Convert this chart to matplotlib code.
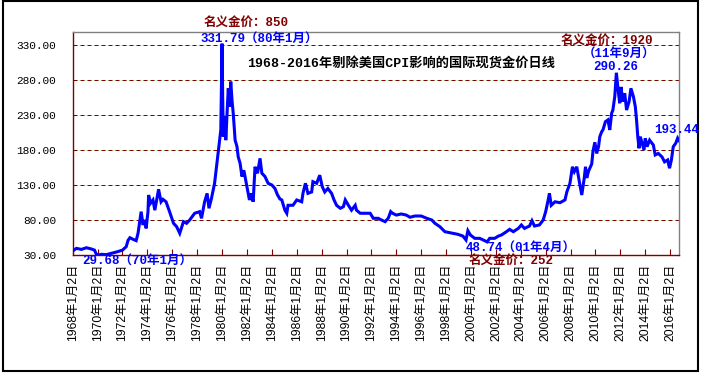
import matplotlib
matplotlib.use("Agg")
import matplotlib.pyplot as plt
from matplotlib.patches import Rectangle

plt.rcParams['font.family'] = ['Noto Sans CJK SC', 'DejaVu Sans']

# 剔除CPI后的金价（年份小数, 数值）
years = [1968.0, 1968.3, 1968.7, 1969.1, 1969.5, 1969.75, 1969.9, 1970.0, 1970.3, 1970.7,
         1971.1, 1971.6, 1972.0, 1972.3, 1972.45, 1972.6, 1972.85, 1973.1, 1973.25, 1973.4,
         1973.5, 1973.65, 1973.8, 1973.9, 1974.05, 1974.1, 1974.25, 1974.45, 1974.6, 1974.7,
         1974.9, 1975.1, 1975.25, 1975.5, 1975.8, 1976.1, 1976.35, 1976.6, 1976.9, 1977.15,
         1977.4, 1977.8, 1978.2, 1978.35, 1978.6, 1978.8, 1978.95, 1979.15, 1979.4, 1979.6,
         1979.75, 1979.9, 1980.0, 1980.05, 1980.1, 1980.25, 1980.3, 1980.5, 1980.6, 1980.7,
         1980.8, 1980.9, 1981.05, 1981.2, 1981.3, 1981.45, 1981.6, 1981.75, 1981.95, 1982.2,
         1982.35, 1982.5, 1982.65, 1982.85, 1983.05, 1983.2, 1983.45, 1983.7, 1984.0, 1984.25,
         1984.45, 1984.65, 1984.8, 1985.05, 1985.2, 1985.3, 1985.7, 1986.0, 1986.4, 1986.5,
         1986.7, 1986.9, 1987.2, 1987.3, 1987.6, 1987.85, 1988.05, 1988.25, 1988.5, 1988.8,
         1989.0, 1989.2, 1989.5, 1989.75, 1989.9, 1990.15, 1990.4, 1990.7, 1990.8, 1991.1,
         1991.5, 1991.9, 1992.15, 1992.55, 1992.8, 1993.1, 1993.35, 1993.55, 1993.7, 1994.0,
         1994.4, 1994.8, 1995.1, 1995.5, 1996.0, 1996.45, 1996.85, 1997.1, 1997.5, 1997.9,
         1998.15, 1998.55, 1998.95, 1999.35, 1999.6, 1999.75, 1999.95, 2000.3, 2000.7, 2001.1,
         2001.3, 2001.5, 2001.9, 2002.2, 2002.45, 2002.85, 2003.1, 2003.4, 2003.8, 2004.05,
         2004.3, 2004.7, 2004.9, 2005.1, 2005.5, 2005.8, 2006.0, 2006.2, 2006.3, 2006.45,
         2006.75, 2007.15, 2007.55, 2007.7, 2007.95, 2008.15, 2008.3, 2008.5, 2008.75, 2008.9,
         2009.1, 2009.2, 2009.3, 2009.45, 2009.7, 2009.8, 2009.95, 2010.1, 2010.25, 2010.35,
         2010.5, 2010.6, 2010.8, 2011.0, 2011.15, 2011.3, 2011.4, 2011.55, 2011.68, 2011.85,
         2011.95, 2012.05, 2012.2, 2012.35, 2012.5, 2012.7, 2012.85, 2013.05, 2013.2, 2013.3,
         2013.4, 2013.5, 2013.6, 2013.75, 2013.9, 2014.0, 2014.15, 2014.35, 2014.65, 2014.8,
         2015.05, 2015.35, 2015.55, 2015.8, 2015.95, 2016.1, 2016.25, 2016.45, 2016.6, 2016.7]
prices = [35.7, 39.5, 38.0, 40.4, 38.6, 37.0, 31.0, 29.68, 31.0, 30.5,
          32.4, 34.7, 37.0, 41.9, 51.0, 54.7, 52.4, 50.5, 61.0, 80.0,
          91.9, 72.9, 80.0, 68.0, 92.0, 115.7, 103.8, 108.6, 94.0, 103.8,
          123.8, 106.0, 109.5, 106.0, 91.0, 75.3, 70.5, 61.0, 77.6, 75.3,
          80.0, 89.6, 91.9, 82.4, 106.0, 118.0, 96.7, 111.0, 132.4, 163.0,
          184.7, 208.6, 331.79, 256.0, 199.0, 227.6, 194.0, 268.0, 242.0, 277.6,
          251.0, 232.0, 194.0, 184.7, 170.0, 161.0, 142.0, 151.0, 132.0, 108.6,
          118.0, 106.0, 156.0, 146.7, 168.0, 146.7, 142.0, 132.4, 130.0, 125.0,
          116.0, 110.0, 108.6, 94.0, 89.6, 101.0, 101.0, 108.6, 106.0, 118.0,
          132.4, 118.0, 120.0, 134.7, 132.4, 144.0, 127.6, 120.0, 125.0, 118.0,
          108.6, 101.0, 96.7, 99.0, 108.6, 101.0, 94.0, 101.0, 94.0, 89.6,
          89.6, 89.6, 82.4, 82.4, 80.0, 77.6, 82.4, 92.0, 89.6, 87.0,
          88.6, 87.0, 83.9, 85.7, 85.7, 82.4, 80.0, 75.3, 70.4, 63.3,
          62.4, 61.0, 59.5, 57.0, 51.4, 64.7, 58.6, 53.8, 53.8, 50.4,
          48.74, 53.8, 53.8, 57.0, 58.6, 63.3, 66.6, 63.3, 68.0, 72.9,
          68.0, 71.4, 79.0, 71.4, 72.9, 80.0, 91.9, 108.6, 118.0, 101.0,
          106.0, 104.7, 108.6, 120.0, 132.4, 156.0, 149.0, 156.0, 130.0, 115.7,
          140.0, 156.0, 140.0, 150.0, 160.0, 178.0, 191.0, 175.0, 185.0, 199.0,
          206.0, 208.6, 220.4, 222.9, 208.6, 232.4, 237.0, 256.0, 290.26, 261.0,
          246.7, 270.0, 249.0, 261.0, 237.0, 249.0, 268.0, 256.0, 242.0, 222.9,
          199.0, 182.4, 199.0, 189.6, 180.0, 196.7, 184.7, 194.0, 187.0, 172.9,
          175.0, 170.0, 163.0, 165.7, 153.9, 165.7, 184.7, 189.6, 196.7, 193.44]

tick_years = list(range(1968, 2017, 2))
tick_labels = [f"{y}年1月2日" for y in tick_years]
y_ticks = [30, 80, 130, 180, 230, 280, 330]

dark_red = '#800000'
blue = '#0000ff'
mono_cjk = ['Liberation Mono', 'Noto Sans CJK SC']

fig = plt.figure(figsize=(7.05, 3.76), dpi=100)
ax = fig.add_axes([0.1031, 0.3218, 0.8607, 0.5923])

ax.plot(years, prices, color=blue, linewidth=2.2, solid_joinstyle='miter', zorder=3)

ax.set_xlim(1968.0, 2016.75)
ax.set_ylim(30, 348)

ax.set_yticks(y_ticks)
ax.set_yticklabels([f"{v:.2f}" for v in y_ticks], fontfamily='Liberation Mono', fontsize=8)
ax.tick_params(axis='y', length=0, pad=12)

ax.set_xticks(tick_years)
ax.set_xticklabels(tick_labels, rotation=90, fontsize=8.8,
                   fontfamily=['Liberation Sans', 'Noto Sans CJK SC'])
ax.tick_params(axis='x', direction='in', length=4, color=dark_red, pad=6)

for v in y_ticks[1:]:
    ax.axhline(v, color=dark_red, linewidth=0.72, linestyle=(0, (4, 3)),
               gapcolor='#ccffcc', zorder=1)

ax.spines['left'].set_color(dark_red)
ax.spines['bottom'].set_color(dark_red)
ax.spines['top'].set_color('#808080')
ax.spines['right'].set_color('#808080')
for s in ax.spines.values():
    s.set_linewidth(1.0)

# 标注
fig.text(0.3497, 0.9396, "名义金价：850", color=dark_red, fontsize=9, fontweight='bold',
         family=mono_cjk, ha='center', va='center')
fig.text(0.368, 0.8955, "331.79（80年1月）", color=blue, fontsize=9, fontweight='bold',
         family=mono_cjk, ha='center', va='center')
fig.text(0.35, 0.8316, "1968-2016年剔除美国CPI影响的国际现货金价日线", color='black',
         fontsize=9.5, fontweight='bold', family=mono_cjk, ha='left', va='center')
fig.text(0.861, 0.8918, "名义金价：1920", color=dark_red, fontsize=9, fontweight='bold',
         family=mono_cjk, ha='center', va='center')
fig.text(0.878, 0.8537, "（11年9月）", color=blue, fontsize=9, fontweight='bold',
         family=mono_cjk, ha='center', va='center')
fig.text(0.873, 0.8226, "290.26", color=blue, fontsize=9, fontweight='bold',
         family=mono_cjk, ha='center', va='center')
fig.text(0.9277, 0.6543, "193.44", color=blue, fontsize=9, fontweight='bold',
         family=mono_cjk, ha='left', va='center')
fig.text(0.1943, 0.304, "29.68（70年1月）", color=blue, fontsize=9, fontweight='bold',
         family=mono_cjk, ha='center', va='center')
fig.text(0.739, 0.3378, "48.74（01年4月）", color=blue, fontsize=9, fontweight='bold',
         family=mono_cjk, ha='center', va='center')
fig.text(0.7248, 0.3059, "名义金价：252", color=dark_red, fontsize=9, fontweight='bold',
         family=mono_cjk, ha='center', va='center')

# 外框
fig.patches.append(Rectangle((0.0043, 0.0133), 0.9858, 0.984, transform=fig.transFigure,
                             fill=False, edgecolor='black', linewidth=1.5))

fig.savefig("out.png", dpi=100)
